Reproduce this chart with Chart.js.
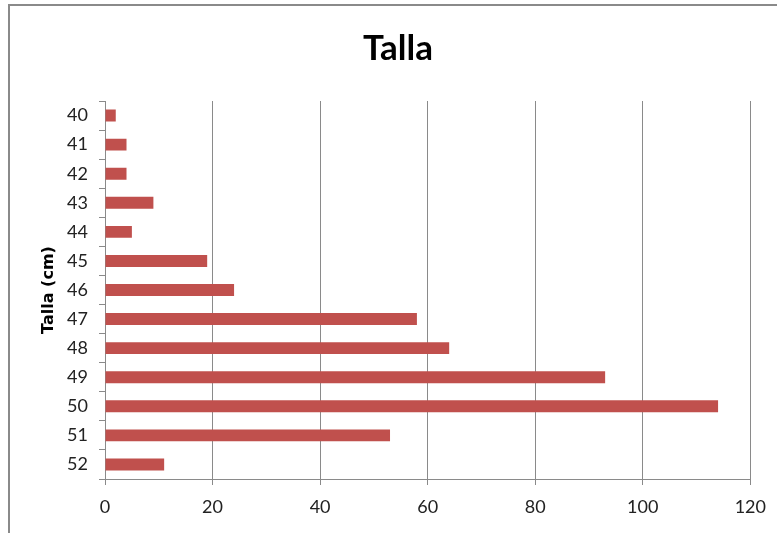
<!DOCTYPE html>
<html>
<head>
<meta charset="utf-8">
<script src="https://cdn.jsdelivr.net/npm/chart.js@4/dist/chart.umd.min.js"></script>
<style>
  html, body { margin: 0; padding: 0; background: #fff; overflow: hidden; }
  #marco {
    position: absolute; left: 8px; top: 4px; width: 800px; height: 560px;
    border-top: 2px solid #8a8a8a; border-left: 2px solid #8a8a8a;
  }
  #grafico { position: absolute; left: 0; top: 0; }
</style>
</head>
<body>
<div id="marco"></div>
<canvas id="grafico" width="777" height="533"></canvas>
<script>
// ----- Datos -----
const tallas = ["40", "41", "42", "43", "44", "45", "46", "47", "48", "49", "50", "51", "52"];
const frecuencias = [2, 4, 4, 9, 5, 19, 24, 58, 64, 93, 114, 53, 11];
const ejeMin = 0;
const ejeMax = 120;
const ejePaso = 20;

const fuente = "Lato, 'DejaVu Sans', sans-serif";
const gris = "#8a8a8a";

// el título va centrado sobre todo el marco, no solo sobre el área libre
const moverTitulo = {
  id: "moverTitulo",
  afterLayout(chart) {
    const t = chart.titleBlock;
    if (t) { t.left += 17; t.right += 17; }
  }
};

// ----- Gráfico -----
new Chart(document.getElementById("grafico"), {
  type: "bar",
  data: {
    labels: tallas,
    datasets: [{
      data: frecuencias,
      backgroundColor: "#C0504D",
      borderWidth: 0,
      categoryPercentage: 1,
      barPercentage: 0.41
    }]
  },
  options: {
    indexAxis: "y",
    responsive: false,
    animation: false,
    layout: { padding: { left: 10, right: 25, top: 0, bottom: 0 } },
    plugins: {
      legend: { display: false },
      tooltip: { enabled: false },
      title: {
        display: true,
        text: "Talla",
        color: "#000",
        font: { family: fuente, size: 35, weight: "bold" },
        padding: { top: 28, bottom: 31 }
      }
    },
    scales: {
      y: {
        type: "category",
        offset: true,
        grid: { display: true, drawOnChartArea: false, offset: true, tickLength: 6, color: gris },
        border: { color: gris },
        ticks: { color: "#222", padding: 11, font: { family: fuente, size: 18 } },
        title: {
          display: true,
          text: "Talla (cm)",
          color: "#000",
          font: { family: "'DejaVu Sans', sans-serif", size: 16, weight: "bold" },
          padding: { top: 29, bottom: 0 }
        },
        afterFit: s => { s.width = 95; }
      },
      x: {
        min: ejeMin,
        max: ejeMax,
        z: 1,
        grid: { color: gris, tickLength: 6 },
        border: { color: gris },
        ticks: { stepSize: ejePaso, color: "#222", padding: 11, font: { family: fuente, size: 18 } },
        afterFit: s => { s.height = 54; }
      }
    }
  },
  plugins: [moverTitulo]
});
</script>
</body>
</html>
